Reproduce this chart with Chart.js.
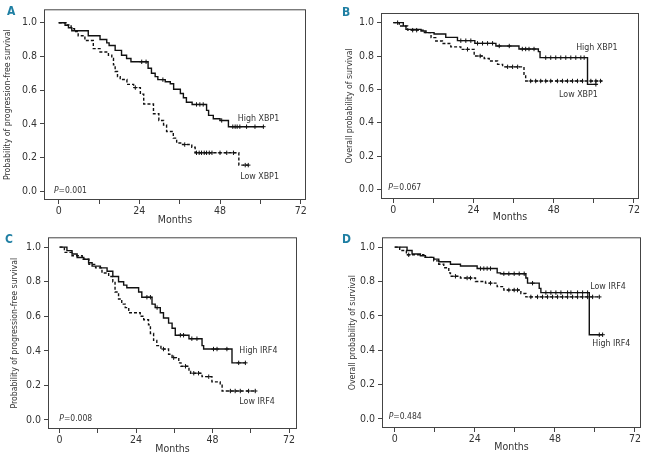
<!DOCTYPE html>
<html>
<head>
<meta charset="utf-8">
<script src="https://cdn.jsdelivr.net/npm/chart.js@4.4.1/dist/chart.umd.min.js"></script>
<style>
  body { margin: 0; background: #fff; }
  #wrap { position: relative; width: 648px; height: 456px; overflow: hidden; }
  canvas { position: absolute; }
  .tag { position: absolute; font: bold 12px "Liberation Sans Narrow", "DejaVu Sans Condensed", sans-serif; color: #1f7fa3; }
</style>
</head>
<body>
<div id="wrap">
  <canvas id="panelA" width="324" height="228" style="left:0;top:0"></canvas>
  <canvas id="panelB" width="324" height="228" style="left:324px;top:0"></canvas>
  <canvas id="panelC" width="324" height="228" style="left:0;top:228px"></canvas>
  <canvas id="panelD" width="324" height="228" style="left:324px;top:228px"></canvas>
  <div class="tag" style="left:7px;top:4px">A</div>
  <div class="tag" style="left:342px;top:5px">B</div>
  <div class="tag" style="left:5px;top:232px">C</div>
  <div class="tag" style="left:342px;top:232px">D</div>
</div>
<script>
// axis ticks
const xTicks = [0, 12, 24, 36, 48, 60, 72];
const xTickLabels = ["0", "", "24", "", "48", "", "72"];
const yTicks = [0, 0.2, 0.4, 0.6, 0.8, 1.0];

// Panel A - PFS by XBP1 ([month, survival] at each drop)
const aHighSteps = [[0,1],[1.9,0.985],[2.9,0.97],[3.9,0.952],[8.8,0.923],[12.3,0.9],[14.3,0.88],[15.0,0.865],[16.8,0.836],[18.7,0.807],[20.2,0.788],[21.5,0.768],[26.6,0.73],[27.6,0.70],[28.7,0.68],[29.5,0.662],[31.7,0.65],[33.2,0.638],[34.2,0.605],[36.2,0.58],[37.1,0.555],[38.0,0.528],[39.7,0.515],[44.0,0.48],[44.6,0.45],[46.0,0.43],[48.0,0.42],[50.5,0.383],[60.9,0.383]];
const aHighCens = [24.7, 26.0, 31.0, 41.0, 42.0, 43.0, 48.5, 51.8, 52.5, 53.1, 53.9, 55.9, 58.4, 60.9];
const aLowSteps = [[0,1],[2.4,0.987],[3.7,0.965],[4.7,0.948],[5.8,0.923],[7.8,0.894],[10.3,0.846],[12.3,0.826],[14.8,0.807],[15.8,0.788],[16.3,0.75],[16.8,0.71],[17.5,0.68],[18.3,0.663],[20.3,0.634],[22.3,0.615],[24.3,0.576],[25.3,0.518],[28.2,0.46],[29.8,0.42],[31.2,0.393],[32.1,0.354],[34.1,0.315],[35.1,0.286],[36.6,0.277],[39.6,0.261],[40.6,0.228],[53.6,0.155],[56.4,0.155]];
const aLowCens = [22.8, 37.5, 41.0, 41.8, 42.5, 43.3, 44.0, 44.8, 45.6, 48.0, 50.0, 52.0, 55.5, 56.4];

// Panel B - OS by XBP1
const bHighSteps = [[0,1],[3.0,0.98],[3.8,0.96],[8.3,0.95],[9.8,0.94],[12.2,0.932],[15.7,0.912],[19.2,0.892],[24.4,0.876],[30.7,0.86],[37.6,0.842],[43.4,0.826],[43.9,0.79],[58.1,0.63],[61.1,0.63]];
const bHighCens = [1.3, 20.2, 21.7, 23.2, 25.2, 26.7, 28.2, 29.7, 31.7, 34.7, 38.6, 39.6, 40.6, 42.1, 45.6, 47.1, 48.6, 50.1, 51.6, 53.1, 54.6, 56.1, 57.1, 60.6];
const bLowSteps = [[0,1],[1.8,0.98],[4.3,0.955],[9.3,0.94],[11.3,0.91],[12.7,0.89],[14.7,0.875],[17.2,0.855],[20.2,0.84],[24.2,0.80],[27.2,0.785],[28.7,0.77],[31.2,0.75],[32.7,0.735],[39.1,0.69],[39.6,0.65],[62.5,0.65]];
const bLowCens = [5.8, 7.0, 22.2, 26.0, 34.2, 35.7, 37.2, 41.1, 42.6, 44.1, 45.6, 47.1, 49.1, 50.6, 52.1, 53.6, 55.1, 56.6, 59.1, 60.6, 62.0];

// Panel C - PFS by IRF4
const cHighSteps = [[0,1],[2.3,0.98],[3.9,0.96],[5.5,0.94],[7.6,0.93],[9.1,0.91],[10.2,0.89],[12.8,0.88],[14.9,0.86],[16.7,0.83],[18.5,0.80],[20.1,0.78],[21.1,0.765],[24.8,0.74],[25.8,0.71],[29.0,0.67],[30.0,0.65],[31.6,0.62],[32.6,0.59],[34.2,0.56],[35.3,0.53],[36.3,0.49],[40.6,0.47],[44.7,0.43],[45.2,0.41],[54.1,0.33],[58.3,0.33]];
const cHighCens = [27.4, 28.5, 30.6, 37.9, 38.9, 41.5, 43.1, 48.3, 49.4, 52.5, 56.2, 58.3];
const cLowSteps = [[0,1],[1.5,0.97],[3.9,0.95],[7.1,0.93],[9.2,0.90],[11.3,0.88],[13.3,0.85],[15.4,0.83],[16.7,0.80],[17.4,0.74],[18.5,0.70],[19.5,0.67],[20.6,0.65],[21.7,0.62],[25.3,0.60],[26.4,0.58],[27.9,0.55],[28.5,0.50],[29.5,0.46],[30.5,0.43],[31.8,0.41],[34.2,0.38],[35.3,0.36],[37.4,0.33],[38.1,0.31],[40.6,0.28],[41.1,0.27],[44.7,0.25],[47.8,0.22],[50.4,0.20],[51.0,0.167],[61.4,0.167]];
const cLowCens = [32.6, 35.8, 39.5, 42.1, 43.6, 46.8, 53.6, 55.1, 56.7, 59.3, 61.4];

// Panel D - OS by IRF4
const dHighSteps = [[0,1],[3.7,0.98],[5.2,0.96],[7.7,0.95],[9.2,0.94],[11.7,0.93],[13.2,0.915],[16.7,0.90],[19.7,0.89],[24.7,0.875],[30.7,0.85],[31.7,0.845],[39.3,0.82],[39.8,0.79],[43.3,0.76],[43.8,0.735],[58.3,0.49],[62.3,0.49]];
const dHighCens = [25.7, 26.7, 27.7, 28.7, 32.7, 34.2, 35.8, 37.3, 38.8, 41.3, 45.3, 46.8, 48.3, 49.8, 51.8, 52.8, 54.8, 56.3, 57.8, 61.3, 62.3];
const dLowSteps = [[0,1],[1.5,0.98],[3.5,0.955],[8.7,0.94],[11.7,0.92],[13.2,0.90],[14.7,0.88],[16.2,0.85],[16.7,0.83],[19.7,0.82],[24.2,0.80],[27.2,0.79],[30.7,0.77],[32.7,0.75],[37.8,0.73],[39.3,0.71],[61.3,0.71]];
const dLowCens = [4.2, 18.2, 21.7, 22.7, 28.7, 34.2, 35.8, 36.8, 40.8, 42.8, 44.3, 45.8, 47.3, 48.8, 50.3, 51.8, 53.3, 54.8, 56.3, 57.8, 59.3, 61.3];

const fontFamily = '"Liberation Sans Narrow", "DejaVu Sans Condensed", "Arial Narrow", sans-serif';
const ink = "#111";
const axisColor = "#444";
const textColor = "#333";

Chart.defaults.font.family = fontFamily;
Chart.defaults.color = textColor;

function toPoints(steps) {
  return steps.map(s => ({ x: s[0], y: s[1] }));
}

// survival value of the step curve at a censoring time
function survAt(steps, t) {
  let v = steps[0][1];
  for (const s of steps) {
    if (s[0] <= t) v = s[1];
  }
  return v;
}

function censorPoints(steps, times) {
  return times.map(t => ({ x: t, y: survAt(steps, t) }));
}

// box + curve labels + P value
const panelDecor = {
  id: "panelDecor",
  afterDraw(chart, args, opts) {
    const { ctx, chartArea: a, scales: { x, y } } = chart;
    ctx.save();
    ctx.strokeStyle = axisColor;
    ctx.lineWidth = 1;
    ctx.strokeRect(a.left + 0.5, a.top + 0.5, a.right - a.left - 1, a.bottom - a.top - 1);

    ctx.fillStyle = textColor;
    ctx.textBaseline = "middle";
    ctx.textAlign = "left";
    ctx.font = "8.8px " + fontFamily;
    opts.labels.forEach(l => {
      ctx.fillText(l.text, x.getPixelForValue(l.at[0]), y.getPixelForValue(l.at[1]));
    });

    const px = x.getPixelForValue(opts.pAt[0]);
    const py = y.getPixelForValue(opts.pAt[1]);
    ctx.font = "italic 8.5px " + fontFamily;
    ctx.fillText("P", px, py);
    const w = ctx.measureText("P").width;
    ctx.font = "8.5px " + fontFamily;
    ctx.fillText("=" + opts.pValue, px + w, py);
    ctx.restore();
  },
};

function makePanel(id, p) {
  const ctx = document.getElementById(id);
  new Chart(ctx.getContext("2d"), {
    type: "line",
    data: {
      datasets: [
        {
          data: toPoints(p.high),
          stepped: true,
          borderColor: ink,
          borderWidth: 1.4,
          pointRadius: 0,
          fill: false,
        },
        {
          data: toPoints(p.low),
          stepped: true,
          borderColor: ink,
          borderWidth: 1.4,
          borderDash: [3, 2],
          pointRadius: 0,
          fill: false,
        },
        {
          data: censorPoints(p.high, p.highCens),
          showLine: false,
          pointStyle: "cross",
          pointRadius: 2.2,
          borderColor: ink,
          borderWidth: 1,
        },
        {
          data: censorPoints(p.low, p.lowCens),
          showLine: false,
          pointStyle: "cross",
          pointRadius: 2.2,
          borderColor: ink,
          borderWidth: 1,
        },
      ],
    },
    options: {
      responsive: false,
      animation: false,
      devicePixelRatio: 1,
      layout: {
        padding: { left: 0, top: p.area.top, right: 324 - p.area.right, bottom: 0 },
      },
      plugins: {
        legend: { display: false },
        tooltip: { enabled: false },
        panelDecor: { labels: p.labels, pAt: p.pAt, pValue: p.pValue },
      },
      scales: {
        x: {
          type: "linear",
          min: p.xRange[0],
          max: p.xRange[1],
          afterBuildTicks: s => { s.ticks = xTicks.map(v => ({ value: v })); },
          afterFit: s => { s.height = 228 - p.area.bottom; },
          ticks: {
            autoSkip: false,
            maxRotation: 0,
            padding: 1,
            color: textColor,
            font: { size: 10.5 },
            callback: (v, i) => xTickLabels[i],
          },
          grid: { display: true, drawOnChartArea: false, drawTicks: true, tickLength: 4, color: axisColor },
          border: { display: false },
          title: {
            display: true,
            text: "Months",
            color: textColor,
            font: { size: 10.5 },
            padding: { top: 0, bottom: p.xTitlePad },
          },
        },
        y: {
          min: p.yRange[0],
          max: p.yRange[1],
          afterBuildTicks: s => { s.ticks = yTicks.map(v => ({ value: v })); },
          afterFit: s => { s.width = p.area.left; },
          ticks: {
            padding: 3,
            color: textColor,
            font: { size: 10.5 },
            callback: v => v.toFixed(1),
          },
          grid: { display: true, drawOnChartArea: false, drawTicks: true, tickLength: 4, color: axisColor },
          border: { display: false },
          title: {
            display: true,
            text: p.yTitle,
            color: textColor,
            font: { size: 8.7 },
            padding: { top: p.yTitlePad, bottom: 0 },
          },
        },
      },
    },
    plugins: [panelDecor],
  });
}

makePanel("panelA", {
  high: aHighSteps, highCens: aHighCens, low: aLowSteps, lowCens: aLowCens,
  area: { left: 44, top: 5, right: 306, bottom: 200 },
  xRange: [-4.37, 73.58], yRange: [-0.052, 1.0795],
  yTitle: "Probability of progression-free survival", yTitlePad: 3, xTitlePad: 1,
  labels: [{ text: "High XBP1", at: [53.3, 0.43] }, { text: "Low XBP1", at: [54, 0.087] }],
  pAt: [-1.4, 0.0], pValue: "0.001",
});

makePanel("panelB", {
  high: bHighSteps, highCens: bHighCens, low: bLowSteps, lowCens: bLowCens,
  area: { left: 57, top: 13, right: 315, bottom: 199 },
  xRange: [-3.67, 73.5], yRange: [-0.058, 1.058],
  yTitle: "Overall probability of survival", yTitlePad: 21, xTitlePad: 4,
  labels: [{ text: "High XBP1", at: [54.7, 0.848] }, { text: "Low XBP1", at: [49.6, 0.566] }],
  pAt: [-1.5, 0.008], pValue: "0.067",
});

makePanel("panelC", {
  high: cHighSteps, highCens: cHighCens, low: cLowSteps, lowCens: cLowCens,
  area: { left: 48, top: 7, right: 297, bottom: 201 },
  xRange: [-3.64, 74.5], yRange: [-0.053, 1.057],
  yTitle: "Probability of progression-free survival", yTitlePad: 10, xTitlePad: 0,
  labels: [{ text: "High IRF4", at: [56.4, 0.398] }, { text: "Low IRF4", at: [56.4, 0.107] }],
  pAt: [-0.1, 0.006], pValue: "0.008",
});

makePanel("panelD", {
  high: dHighSteps, highCens: dHighCens, low: dLowSteps, lowCens: dLowCens,
  area: { left: 58, top: 5, right: 317, bottom: 200 },
  xRange: [-3.81, 73.8], yRange: [-0.053, 1.057],
  yTitle: "Overall probability of survival", yTitlePad: 24, xTitlePad: 2,
  labels: [{ text: "Low IRF4", at: [58.6, 0.772] }, { text: "High IRF4", at: [59.2, 0.437] }],
  pAt: [-1.8, 0.01], pValue: "0.484",
});
</script>
</body>
</html>
